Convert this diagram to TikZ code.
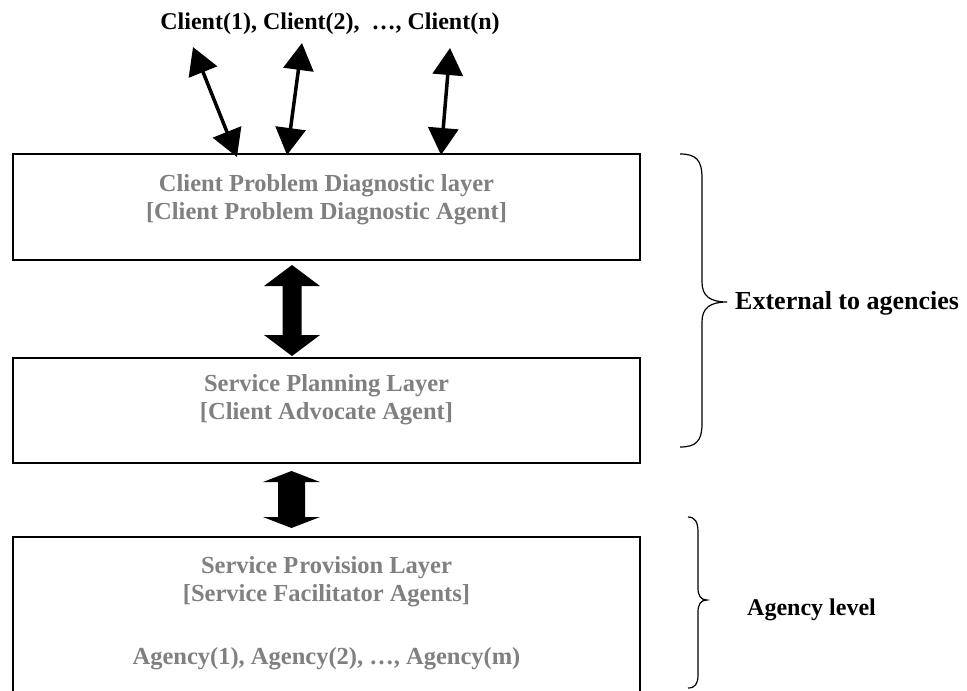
\documentclass[tikz,border=0pt]{standalone}
\usepackage{fontspec}
\setmainfont{Liberation Serif}
\usetikzlibrary{arrows.meta}
\definecolor{txtgray}{HTML}{808080}
\tikzset{
  layerbox/.style={draw=black, line width=1.6pt, minimum width=627pt, inner sep=0pt},
  graytext/.style={text=txtgray, font=\fontsize{24.5}{28}\selectfont\bfseries, align=center, inner sep=0pt},
  blacktext/.style={text=black, font=\fontsize{24}{28}\selectfont\bfseries, inner sep=0pt},
  clientarrow/.style={line width=3.5pt, {Triangle[length=27pt,width=30pt]}-{Triangle[length=27pt,width=30pt]}},
  blockarrow/.style={fill=black, draw=none},
  bracestyle/.style={draw=black, line width=1.2pt}
}
\begin{document}
\begin{tikzpicture}[x=1pt,y=-1pt]
\useasboundingbox (0,0) rectangle (967,691);
\fill[white] (0,0) rectangle (967,691);

% boxes
\node[layerbox, minimum height=106pt] (box1) at (326.5,207) {};
\node[layerbox, minimum height=105pt] (box2) at (326.5,410.5) {};
\node[layerbox, minimum height=160pt] (box3) at (326.5,617) {};

% texts
\node[blacktext] (clients) at (330,24) {Client(1), Client(2),\ \ \ldots, Client(n)};
\node[graytext] (t1) at (326.5,200) {Client Problem Diagnostic layer\\{[}Client Problem Diagnostic Agent{]}};
\node[graytext] (t2) at (326.5,400) {Service Planning Layer\\{[}Client Advocate Agent{]}};
\node[graytext] (t3) at (326.5,582) {Service P\kern1pt rovision Layer\\{[}Service Facilitator Agents{]}};
\node[graytext] (t4) at (326.5,659) {Agency(1), Agency(2), \ldots, Agency(m)};

% client arrows
\coordinate (a1t) at (193,47);
\coordinate (a1b) at (237,157);
\coordinate (a2t) at (302,43);
\coordinate (a2b) at (287,155);
\coordinate (a3t) at (450,48);
\coordinate (a3b) at (441,155);
\draw[clientarrow] (a1t) -- (a1b);
\draw[clientarrow] (a2t) -- (a2b);
\draw[clientarrow] (a3t) -- (a3b);

% block arrows
\fill[blockarrow] (292,265) -- (320,286) -- (301.5,286) -- (301.5,335) -- (320,335) -- (292,356)
  -- (264,335) -- (282.5,335) -- (282.5,286) -- (264,286) -- cycle;
\fill[blockarrow] (291.5,471) -- (320,482) -- (305,482) -- (305,517) -- (320,517) -- (291.5,528)
  -- (263,517) -- (278,517) -- (278,482) -- (263,482) -- cycle;

% braces
\draw[bracestyle] (680,154) .. controls (696,154) and (702,160) .. (702,178) -- (702,282)
  .. controls (702,296) and (710,302) .. (727,302)
  .. controls (710,302) and (702,308) .. (702,322) -- (702,424)
  .. controls (702,441) and (696,447) .. (680,447);
\draw[bracestyle] (688,517) .. controls (695,517) and (698,522) .. (698,532) -- (698,588)
  .. controls (698,596) and (701,600) .. (707,600)
  .. controls (701,600) and (698,604) .. (698,612) -- (698,675)
  .. controls (698,684) and (695,688) .. (688,688);

\node[blacktext, anchor=west, font=\fontsize{26}{30}\selectfont\bfseries] (ext) at (735,303) {External to agencies};
\node[blacktext, anchor=west] (agl) at (747,610) {Agency level};
\end{tikzpicture}
\end{document}
